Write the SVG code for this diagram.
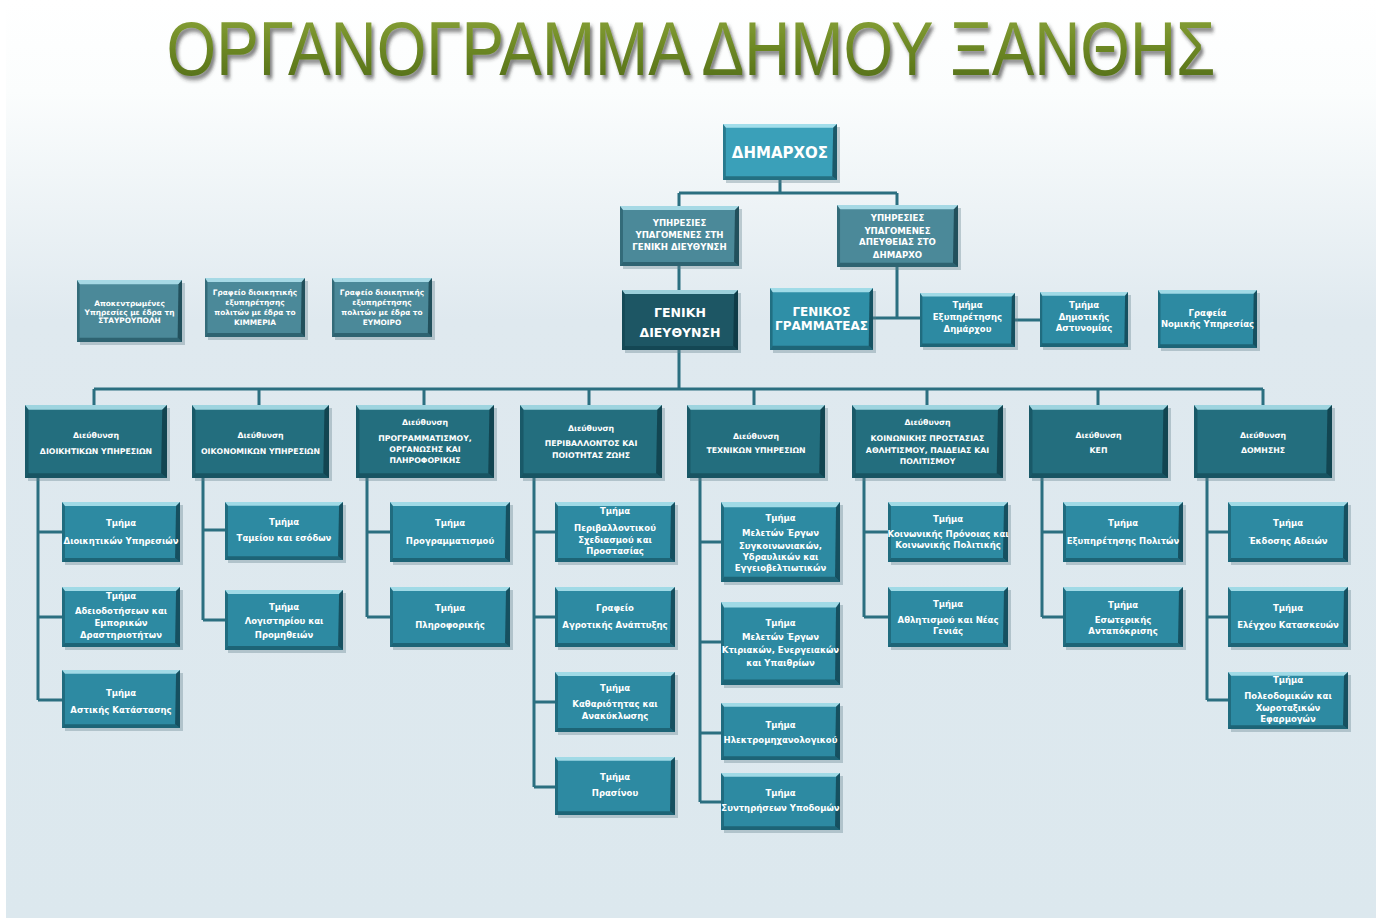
<svg xmlns="http://www.w3.org/2000/svg" xmlns:xlink="http://www.w3.org/1999/xlink" width="1376" height="920" viewBox="0 0 1376 920">
<defs>
<linearGradient id="bg" x1="0" y1="0" x2="0" y2="1">
<stop offset="0" stop-color="#ffffff"/>
<stop offset="0.1" stop-color="#fbfdfd"/>
<stop offset="0.35" stop-color="#dfe9ef"/>
<stop offset="1" stop-color="#dce8ee"/>
</linearGradient>
<linearGradient id="tg" x1="0" y1="0" x2="0" y2="1">
<stop offset="0" stop-color="#8fa83c"/>
<stop offset="0.5" stop-color="#6c8724"/>
<stop offset="1" stop-color="#4e6914"/>
</linearGradient>
<filter id="ts" x="-10%" y="-50%" width="120%" height="200%">
<feDropShadow dx="3" dy="4" stdDeviation="2" flood-color="#2a2a2a" flood-opacity="0.6"/>
</filter>
<symbol id="bev" viewBox="0 0 120 60" preserveAspectRatio="none">
<polygon points="0,0 120,0 116,4 3,4" fill="#bdeef7" opacity="0.8"/>
<polygon points="120,0 120,60 115,56 116,4" fill="#062a33" opacity="0.6"/>
<polygon points="0,60 120,60 115,56 3,56" fill="#0a3540" opacity="0.45"/>
<polygon points="0,0 3,4 3,56 0,60" fill="#0a3540" opacity="0.35"/>
</symbol>
<style>
.c{stroke:#2b6f80;stroke-width:3;fill:none}
.sh{fill:#5f7f8a;opacity:.35}
.tm{fill:#2d8aa2}
.dr{fill:#236e7e}
.gd{fill:#1d5664}
.gr{fill:#4b8999}
.dm{fill:#3aa0b9}
.gg{fill:#2f8fa7}
.tx{font-family:"DejaVu Sans","Liberation Sans",sans-serif;font-weight:bold;fill:#ffffff;text-anchor:middle}
.s7{font-size:7.4px}
.s8{font-size:8.5px}
.h{font-size:7.8px}
.u{font-size:8.6px}
.big{font-size:12px}
.title{font-family:"Liberation Sans",Arial,sans-serif;font-size:76px;text-anchor:middle}
</style>
</defs>
<rect x="0" y="0" width="1376" height="920" fill="#ffffff"/>
<rect x="6" y="0" width="1370" height="918" fill="url(#bg)"/>
<g id="title" transform="translate(691,75) scale(0.84,1)">
<text class="title" x="0" y="0" fill="url(#tg)" filter="url(#ts)">ΟΡΓΑΝΟΓΡΑΜΜΑ ΔΗΜΟΥ ΞΑΝΘΗΣ</text>
</g>

<g id="connectors">
<path class="c" d="M780 180V193M679 193H897M679 193V206M897 193V205"/>
<path class="c" d="M679 266V290M679 350V389"/>
<path class="c" d="M897 267V318M873 318H920M1015 320H1040"/>
<path class="c" d="M94 389H1263M94 389V405M259 389V405M424 389V405M589 389V405M754 389V405M927 389V405M1098 389V405M1263 389V405"/>
<path class="c" d="M38 478V700M38 532H62M38 617H62M38 700H62"/>
<path class="c" d="M203 478V620M203 530H225M203 620H225"/>
<path class="c" d="M367 478V617M367 532H390M367 617H390"/>
<path class="c" d="M534 478V787M534 532H555M534 617H555M534 702H555M534 787H555"/>
<path class="c" d="M700 478V802M700 542H721M700 642H721M700 733H721M700 802H721"/>
<path class="c" d="M864 478V617M864 532H888M864 617H888"/>
<path class="c" d="M1042 478V617M1042 532H1063M1042 617H1063"/>
<path class="c" d="M1207 478V700M1207 532H1228M1207 617H1228M1207 700H1228"/>
</g>

<g id="dimarxos"><rect class="sh" x="726" y="127" width="114" height="56"/><rect class="dm" x="723" y="124" width="114" height="56"/><use href="#bev" x="723" y="124" width="114" height="56"/><text class="tx" x="780" y="158" font-size="15">ΔΗΜΑΡΧΟΣ</text></g>

<g id="ypiresies-gd"><rect class="sh" x="623" y="209" width="119" height="60"/><rect class="gr" x="620" y="206" width="119" height="60"/><use href="#bev" x="620" y="206" width="119" height="60"/><text class="tx u" x="679.5"><tspan x="679.5" y="226">ΥΠΗΡΕΣΙΕΣ</tspan><tspan x="679.5" y="238">ΥΠΑΓΟΜΕΝΕΣ ΣΤΗ</tspan><tspan x="679.5" y="250">ΓΕΝΙΚΗ ΔΙΕΥΘΥΝΣΗ</tspan></text></g>

<g id="ypiresies-dim"><rect class="sh" x="840" y="208" width="121" height="62"/><rect class="gr" x="837" y="205" width="121" height="62"/><use href="#bev" x="837" y="205" width="121" height="62"/><text class="tx u" x="897.5"><tspan x="897.5" y="221">ΥΠΗΡΕΣΙΕΣ</tspan><tspan x="897.5" y="233.5">ΥΠΑΓΟΜΕΝΕΣ</tspan><tspan x="897.5" y="245">ΑΠΕΥΘΕΙΑΣ ΣΤΟ</tspan><tspan x="897.5" y="258">ΔΗΜΑΡΧΟ</tspan></text></g>

<g id="geniki-dieythynsi"><rect class="sh" x="625" y="293" width="116" height="60"/><rect class="gd" x="622" y="290" width="116" height="60"/><use href="#bev" x="622" y="290" width="116" height="60"/><text class="tx" x="680" font-size="12.5"><tspan x="680" y="317">ΓΕΝΙΚΗ</tspan><tspan x="680" y="337">ΔΙΕΥΘΥΝΣΗ</tspan></text></g>

<g id="genikos-grammateas"><rect class="sh" x="773" y="291" width="103" height="62"/><rect class="gg" x="770" y="288" width="103" height="62"/><use href="#bev" x="770" y="288" width="103" height="62"/><text class="tx big" x="821.5"><tspan x="821.5" y="316">ΓΕΝΙΚΟΣ</tspan><tspan x="821.5" y="330">ΓΡΑΜΜΑΤΕΑΣ</tspan></text></g>

<g id="tm-exyp-dimarxou"><rect class="sh" x="923" y="296" width="95" height="54"/><rect class="tm" x="920" y="293" width="95" height="54"/><use href="#bev" x="920" y="293" width="95" height="54"/><text class="tx s8" x="967.5"><tspan x="967.5" y="308">Τμήμα</tspan><tspan x="967.5" y="320">Εξυπηρέτησης</tspan><tspan x="967.5" y="332">Δημάρχου</tspan></text></g>

<g id="tm-dim-astynomias"><rect class="sh" x="1043" y="295" width="88" height="55"/><rect class="tm" x="1040" y="292" width="88" height="55"/><use href="#bev" x="1040" y="292" width="88" height="55"/><text class="tx s8" x="1084"><tspan x="1084" y="308">Τμήμα</tspan><tspan x="1084" y="319.5">Δημοτικής</tspan><tspan x="1084" y="330.5">Αστυνομίας</tspan></text></g>

<g id="nomiki"><rect class="sh" x="1161" y="293" width="99" height="58"/><rect class="tm" x="1158" y="290" width="99" height="58"/><use href="#bev" x="1158" y="290" width="99" height="58"/><text class="tx s8" x="1207.5"><tspan x="1207.5" y="316">Γραφεία</tspan><tspan x="1207.5" y="326.5">Νομικής Υπηρεσίας</tspan></text></g>

<g id="stavroupoli"><rect class="sh" x="80" y="283" width="105" height="62"/><rect class="gr" x="77" y="280" width="105" height="62"/><use href="#bev" x="77" y="280" width="105" height="62"/><text class="tx s7" x="129.5"><tspan x="129.5" y="306">Αποκεντρωμένες</tspan><tspan x="129.5" y="314.5">Υπηρεσίες με έδρα τη</tspan><tspan x="129.5" y="323">ΣΤΑΥΡΟΥΠΟΛΗ</tspan></text></g>

<g id="kimmeria"><rect class="sh" x="208" y="281" width="100" height="59"/><rect class="gr" x="205" y="278" width="100" height="59"/><use href="#bev" x="205" y="278" width="100" height="59"/><text class="tx s7" x="255"><tspan x="255" y="294.5">Γραφείο διοικητικής</tspan><tspan x="255" y="304.5">εξυπηρέτησης</tspan><tspan x="255" y="315">πολιτών με έδρα το</tspan><tspan x="255" y="324.5">ΚΙΜΜΕΡΙΑ</tspan></text></g>

<g id="eymoiro"><rect class="sh" x="335" y="281" width="100" height="59"/><rect class="gr" x="332" y="278" width="100" height="59"/><use href="#bev" x="332" y="278" width="100" height="59"/><text class="tx s7" x="382"><tspan x="382" y="294.5">Γραφείο διοικητικής</tspan><tspan x="382" y="304.5">εξυπηρέτησης</tspan><tspan x="382" y="315">πολιτών με έδρα το</tspan><tspan x="382" y="324.5">ΕΥΜΟΙΡΟ</tspan></text></g>

<g id="d-dioikitikon"><rect class="sh" x="28" y="408" width="142" height="73"/><rect class="dr" x="25" y="405" width="142" height="73"/><use href="#bev" x="25" y="405" width="142" height="73"/><text class="tx h" x="96"><tspan x="96" y="437.5">Διεύθυνση</tspan><tspan x="96" y="453.5">ΔΙΟΙΚΗΤΙΚΩΝ ΥΠΗΡΕΣΙΩΝ</tspan></text></g>

<g id="d-oikonomikon"><rect class="sh" x="195" y="408" width="137" height="73"/><rect class="dr" x="192" y="405" width="137" height="73"/><use href="#bev" x="192" y="405" width="137" height="73"/><text class="tx h" x="260.5"><tspan x="260.5" y="437.5">Διεύθυνση</tspan><tspan x="260.5" y="453.5">ΟΙΚΟΝΟΜΙΚΩΝ ΥΠΗΡΕΣΙΩΝ</tspan></text></g>

<g id="d-programmatismou"><rect class="sh" x="359" y="408" width="138" height="73"/><rect class="dr" x="356" y="405" width="138" height="73"/><use href="#bev" x="356" y="405" width="138" height="73"/><text class="tx h" x="425"><tspan x="425" y="424.5">Διεύθυνση</tspan><tspan x="425" y="440.5">ΠΡΟΓΡΑΜΜΑΤΙΣΜΟΥ,</tspan><tspan x="425" y="452">ΟΡΓΑΝΩΣΗΣ ΚΑΙ</tspan><tspan x="425" y="463">ΠΛΗΡΟΦΟΡΙΚΗΣ</tspan></text></g>

<g id="d-perivallontos"><rect class="sh" x="523" y="408" width="142" height="73"/><rect class="dr" x="520" y="405" width="142" height="73"/><use href="#bev" x="520" y="405" width="142" height="73"/><text class="tx h" x="591"><tspan x="591" y="431">Διεύθυνση</tspan><tspan x="591" y="446">ΠΕΡΙΒΑΛΛΟΝΤΟΣ ΚΑΙ</tspan><tspan x="591" y="458">ΠΟΙΟΤΗΤΑΣ ΖΩΗΣ</tspan></text></g>

<g id="d-texnikon"><rect class="sh" x="690" y="408" width="138" height="73"/><rect class="dr" x="687" y="405" width="138" height="73"/><use href="#bev" x="687" y="405" width="138" height="73"/><text class="tx h" x="756"><tspan x="756" y="439">Διεύθυνση</tspan><tspan x="756" y="453">ΤΕΧΝΙΚΩΝ ΥΠΗΡΕΣΙΩΝ</tspan></text></g>

<g id="d-koinonikis"><rect class="sh" x="855" y="408" width="151" height="73"/><rect class="dr" x="852" y="405" width="151" height="73"/><use href="#bev" x="852" y="405" width="151" height="73"/><text class="tx h" x="927.5"><tspan x="927.5" y="424.5">Διεύθυνση</tspan><tspan x="927.5" y="440.5">ΚΟΙΝΩΝΙΚΗΣ ΠΡΟΣΤΑΣΙΑΣ</tspan><tspan x="927.5" y="452.5">ΑΘΛΗΤΙΣΜΟΥ, ΠΑΙΔΕΙΑΣ ΚΑΙ</tspan><tspan x="927.5" y="463.5">ΠΟΛΙΤΙΣΜΟΥ</tspan></text></g>

<g id="d-kep"><rect class="sh" x="1032" y="408" width="139" height="73"/><rect class="dr" x="1029" y="405" width="139" height="73"/><use href="#bev" x="1029" y="405" width="139" height="73"/><text class="tx h" x="1098.5"><tspan x="1098.5" y="437.5">Διεύθυνση</tspan><tspan x="1098.5" y="452.5">ΚΕΠ</tspan></text></g>

<g id="d-domisis"><rect class="sh" x="1197" y="408" width="138" height="73"/><rect class="dr" x="1194" y="405" width="138" height="73"/><use href="#bev" x="1194" y="405" width="138" height="73"/><text class="tx h" x="1263"><tspan x="1263" y="437.5">Διεύθυνση</tspan><tspan x="1263" y="452.5">ΔΟΜΗΣΗΣ</tspan></text></g>

<g id="t-dioikitikon"><rect class="sh" x="65" y="505" width="118" height="60"/><rect class="tm" x="62" y="502" width="118" height="60"/><use href="#bev" x="62" y="502" width="118" height="60"/><text class="tx s8" x="121"><tspan x="121" y="526">Τμήμα</tspan><tspan x="121" y="544">Διοικητικών Υπηρεσιών</tspan></text></g>

<g id="t-adeiodotiseon"><rect class="sh" x="65" y="590" width="118" height="60"/><rect class="tm" x="62" y="587" width="118" height="60"/><use href="#bev" x="62" y="587" width="118" height="60"/><text class="tx s8" x="121"><tspan x="121" y="599">Τμήμα</tspan><tspan x="121" y="613.5">Αδειοδοτήσεων και</tspan><tspan x="121" y="625.5">Εμπορικών</tspan><tspan x="121" y="637.5">Δραστηριοτήτων</tspan></text></g>

<g id="t-astikis"><rect class="sh" x="65" y="673" width="118" height="58"/><rect class="tm" x="62" y="670" width="118" height="58"/><use href="#bev" x="62" y="670" width="118" height="58"/><text class="tx s8" x="121"><tspan x="121" y="696">Τμήμα</tspan><tspan x="121" y="712.5">Αστικής Κατάστασης</tspan></text></g>

<g id="t-tameiou"><rect class="sh" x="228" y="505" width="118" height="58"/><rect class="tm" x="225" y="502" width="118" height="58"/><use href="#bev" x="225" y="502" width="118" height="58"/><text class="tx s8" x="284"><tspan x="284" y="524.5">Τμήμα</tspan><tspan x="284" y="541">Ταμείου και εσόδων</tspan></text></g>

<g id="t-logistiriou"><rect class="sh" x="228" y="593" width="118" height="60"/><rect class="tm" x="225" y="590" width="118" height="60"/><use href="#bev" x="225" y="590" width="118" height="60"/><text class="tx s8" x="284"><tspan x="284" y="609.5">Τμήμα</tspan><tspan x="284" y="624">Λογιστηρίου και</tspan><tspan x="284" y="637.5">Προμηθειών</tspan></text></g>

<g id="t-programmatismou"><rect class="sh" x="393" y="505" width="120" height="60"/><rect class="tm" x="390" y="502" width="120" height="60"/><use href="#bev" x="390" y="502" width="120" height="60"/><text class="tx s8" x="450"><tspan x="450" y="526">Τμήμα</tspan><tspan x="450" y="543.5">Προγραμματισμού</tspan></text></g>

<g id="t-pliroforikis"><rect class="sh" x="393" y="590" width="120" height="60"/><rect class="tm" x="390" y="587" width="120" height="60"/><use href="#bev" x="390" y="587" width="120" height="60"/><text class="tx s8" x="450"><tspan x="450" y="611">Τμήμα</tspan><tspan x="450" y="627.5">Πληροφορικής</tspan></text></g>

<g id="t-perivallontikou"><rect class="sh" x="558" y="505" width="120" height="60"/><rect class="tm" x="555" y="502" width="120" height="60"/><use href="#bev" x="555" y="502" width="120" height="60"/><text class="tx s8" x="615"><tspan x="615" y="514">Τμήμα</tspan><tspan x="615" y="531">Περιβαλλοντικού</tspan><tspan x="615" y="543">Σχεδιασμού και</tspan><tspan x="615" y="554">Προστασίας</tspan></text></g>

<g id="g-agrotikis"><rect class="sh" x="558" y="590" width="120" height="60"/><rect class="tm" x="555" y="587" width="120" height="60"/><use href="#bev" x="555" y="587" width="120" height="60"/><text class="tx s8" x="615"><tspan x="615" y="611">Γραφείο</tspan><tspan x="615" y="627.5">Αγροτικής Ανάπτυξης</tspan></text></g>

<g id="t-kathariotitas"><rect class="sh" x="558" y="675" width="120" height="60"/><rect class="tm" x="555" y="672" width="120" height="60"/><use href="#bev" x="555" y="672" width="120" height="60"/><text class="tx s8" x="615"><tspan x="615" y="691">Τμήμα</tspan><tspan x="615" y="707">Καθαριότητας και</tspan><tspan x="615" y="718.5">Ανακύκλωσης</tspan></text></g>

<g id="t-prasinou"><rect class="sh" x="558" y="760" width="120" height="58"/><rect class="tm" x="555" y="757" width="120" height="58"/><use href="#bev" x="555" y="757" width="120" height="58"/><text class="tx s8" x="615"><tspan x="615" y="779.5">Τμήμα</tspan><tspan x="615" y="796">Πρασίνου</tspan></text></g>

<g id="t-meleton-sygk"><rect class="sh" x="724" y="505" width="119" height="80"/><rect class="tm" x="721" y="502" width="119" height="80"/><use href="#bev" x="721" y="502" width="119" height="80"/><text class="tx s8" x="780.5"><tspan x="780.5" y="520.5">Τμήμα</tspan><tspan x="780.5" y="536">Μελετών Έργων</tspan><tspan x="780.5" y="549">Συγκοινωνιακών,</tspan><tspan x="780.5" y="560">Υδραυλικών και</tspan><tspan x="780.5" y="571">Εγγειοβελτιωτικών</tspan></text></g>

<g id="t-meleton-ktir"><rect class="sh" x="724" y="605" width="119" height="83"/><rect class="tm" x="721" y="602" width="119" height="83"/><use href="#bev" x="721" y="602" width="119" height="83"/><text class="tx s8" x="780.5"><tspan x="780.5" y="626">Τμήμα</tspan><tspan x="780.5" y="639.5">Μελετών Έργων</tspan><tspan x="780.5" y="652.5">Κτιριακών, Ενεργειακών</tspan><tspan x="780.5" y="666">και Υπαιθρίων</tspan></text></g>

<g id="t-ilektro"><rect class="sh" x="724" y="706" width="119" height="57"/><rect class="tm" x="721" y="703" width="119" height="57"/><use href="#bev" x="721" y="703" width="119" height="57"/><text class="tx s8" x="780.5"><tspan x="780.5" y="728">Τμήμα</tspan><tspan x="780.5" y="743">Ηλεκτρομηχανολογικού</tspan></text></g>

<g id="t-syntiriseon"><rect class="sh" x="724" y="776" width="119" height="57"/><rect class="tm" x="721" y="773" width="119" height="57"/><use href="#bev" x="721" y="773" width="119" height="57"/><text class="tx s8" x="780.5"><tspan x="780.5" y="796">Τμήμα</tspan><tspan x="780.5" y="811">Συντηρήσεων Υποδομών</tspan></text></g>

<g id="t-koinonikis"><rect class="sh" x="891" y="505" width="120" height="60"/><rect class="tm" x="888" y="502" width="120" height="60"/><use href="#bev" x="888" y="502" width="120" height="60"/><text class="tx s8" x="948"><tspan x="948" y="522">Τμήμα</tspan><tspan x="948" y="537">Κοινωνικής Πρόνοιας και</tspan><tspan x="948" y="548">Κοινωνικής Πολιτικής</tspan></text></g>

<g id="t-athlitismou"><rect class="sh" x="891" y="590" width="120" height="60"/><rect class="tm" x="888" y="587" width="120" height="60"/><use href="#bev" x="888" y="587" width="120" height="60"/><text class="tx s8" x="948"><tspan x="948" y="607">Τμήμα</tspan><tspan x="948" y="623">Αθλητισμού και Νέας</tspan><tspan x="948" y="633.5">Γενιάς</tspan></text></g>

<g id="t-exyp-politon"><rect class="sh" x="1066" y="505" width="120" height="60"/><rect class="tm" x="1063" y="502" width="120" height="60"/><use href="#bev" x="1063" y="502" width="120" height="60"/><text class="tx s8" x="1123"><tspan x="1123" y="526">Τμήμα</tspan><tspan x="1123" y="543.5">Εξυπηρέτησης Πολιτών</tspan></text></g>

<g id="t-esoterikis"><rect class="sh" x="1066" y="590" width="120" height="60"/><rect class="tm" x="1063" y="587" width="120" height="60"/><use href="#bev" x="1063" y="587" width="120" height="60"/><text class="tx s8" x="1123"><tspan x="1123" y="608">Τμήμα</tspan><tspan x="1123" y="623">Εσωτερικής</tspan><tspan x="1123" y="633.5">Ανταπόκρισης</tspan></text></g>

<g id="t-ekdosis"><rect class="sh" x="1231" y="505" width="120" height="60"/><rect class="tm" x="1228" y="502" width="120" height="60"/><use href="#bev" x="1228" y="502" width="120" height="60"/><text class="tx s8" x="1288"><tspan x="1288" y="526">Τμήμα</tspan><tspan x="1288" y="543.5">Έκδοσης Αδειών</tspan></text></g>

<g id="t-elegxou"><rect class="sh" x="1231" y="590" width="120" height="60"/><rect class="tm" x="1228" y="587" width="120" height="60"/><use href="#bev" x="1228" y="587" width="120" height="60"/><text class="tx s8" x="1288"><tspan x="1288" y="611">Τμήμα</tspan><tspan x="1288" y="627.5">Ελέγχου Κατασκευών</tspan></text></g>

<g id="t-poleodomikon"><rect class="sh" x="1231" y="675" width="120" height="57"/><rect class="tm" x="1228" y="672" width="120" height="57"/><use href="#bev" x="1228" y="672" width="120" height="57"/><text class="tx s8" x="1288"><tspan x="1288" y="682.5">Τμήμα</tspan><tspan x="1288" y="699">Πολεοδομικών και</tspan><tspan x="1288" y="710.5">Χωροταξικών</tspan><tspan x="1288" y="721.5">Εφαρμογών</tspan></text></g>
</svg>
